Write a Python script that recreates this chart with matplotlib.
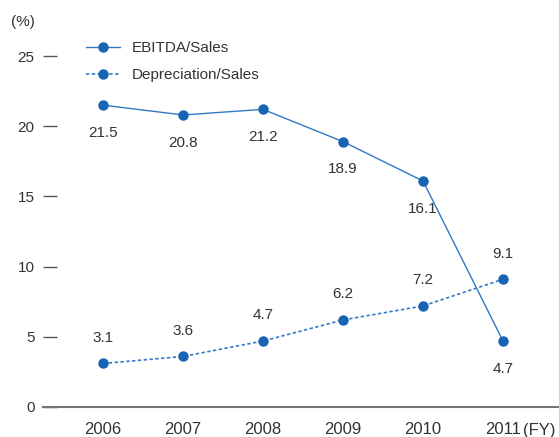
import matplotlib.pyplot as plt

years = ["2006", "2007", "2008", "2009", "2010", "2011"]
ebitda = [21.5, 20.8, 21.2, 18.9, 16.1, 4.7]
depreciation = [3.1, 3.6, 4.7, 6.2, 7.2, 9.1]
yticks = [0, 5, 10, 15, 20, 25]

LINE = "#3278c6"
DOT = "#1764b4"
TEXT = "#333333"

plt.rcParams["font.family"] = ["Liberation Sans", "DejaVu Sans"]

fig = plt.figure(figsize=(5.59, 4.37), dpi=100)
ax = fig.add_axes([43 / 559, 30 / 437, 1 - 43 / 559, 351 / 437])

x = list(range(len(years)))
ax.plot(x, ebitda, color=LINE, lw=1.0, marker="o", ms=6.5, mfc=DOT, mec=DOT,
        label="EBITDA/Sales", clip_on=False)
ax.plot(x, depreciation, color=LINE, lw=1.2, ls=(0, (2, 1.5)), marker="o", ms=6.5,
        mfc=DOT, mec=DOT, label="Depreciation/Sales", clip_on=False)

for xi, v in zip(x, ebitda):
    ax.annotate(f"{v:.1f}", (xi, v), xytext=(0, -20), textcoords="offset points",
                ha="center", va="center", fontsize=11, color=TEXT)
for xi, v in zip(x, depreciation):
    ax.annotate(f"{v:.1f}", (xi, v), xytext=(0, 18.5), textcoords="offset points",
                ha="center", va="center", fontsize=11, color=TEXT)

ax.set_xlim(-0.75, 5.7)
ax.set_ylim(0, 25)
ax.set_yticks(yticks)
ax.set_xticks(x)
ax.set_xticklabels(years)
ax.tick_params(axis="y", direction="in", length=10, width=1.0, color="#555555",
               pad=6, labelsize=11, labelcolor=TEXT)
ax.tick_params(axis="x", length=0, pad=11, labelsize=12, labelcolor=TEXT)

for side in ["left", "right", "top"]:
    ax.spines[side].set_visible(False)
ax.spines["bottom"].set_color("#777777")
ax.spines["bottom"].set_linewidth(1.5)

fig.text(11 / 559, 1 - 22 / 437, "(%)", fontsize=11, color=TEXT, ha="left", va="center")
fig.text(1 - 3 / 559, 1 - 431 / 437, "(FY)", fontsize=12, color=TEXT, ha="right", va="center")

leg = ax.legend(loc="upper left", bbox_to_anchor=(80 / 559, 1 - 35 / 437),
                bbox_transform=fig.transFigure, frameon=False, fontsize=11,
                handlelength=2.2, handletextpad=0.8, labelspacing=0.85, borderaxespad=0)
for t in leg.get_texts():
    t.set_color(TEXT)

fig.savefig("out.png", dpi=100)
